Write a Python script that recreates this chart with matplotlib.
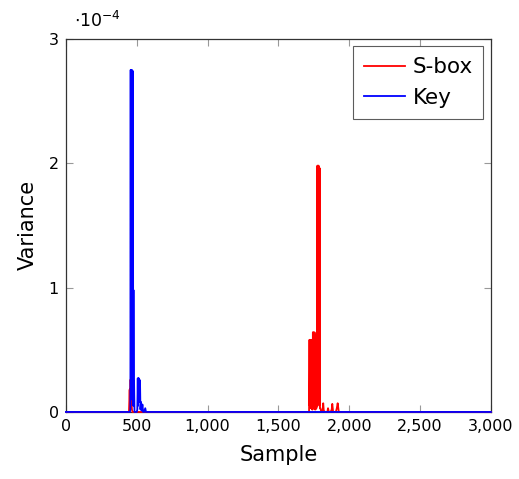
import matplotlib
matplotlib.use("Agg")
import matplotlib.pyplot as plt
from matplotlib.ticker import FuncFormatter

# S-box variance trace (values in units of 1e-4)
sbox_samples = [0, 445, 450, 453, 456, 459, 462, 466, 470, 1716, 1719, 1721, 1723, 1725,
                1727, 1729, 1731, 1733, 1735, 1737, 1739, 1741, 1743, 1745, 1747, 1749,
                1751, 1753, 1755, 1757, 1759, 1762, 1766, 1768, 1770, 1772, 1775, 1777,
                1779, 1781, 1783, 1785, 1787, 1789, 1791, 1793, 1796, 1800, 1808, 1812,
                1816, 1820, 1830, 1845, 1850, 1856, 1868, 1876, 1880, 1886, 1905, 1912,
                1918, 1926, 3000]
sbox_values = [0, 0, 0.18, 0.02, 0.26, 0.04, 0.10, 0.02, 0, 0, 0.58, 0.05, 0.58, 0.1,
               0.57, 0.03, 0.58, 0.2, 0.57, 0.02, 0.58, 0.02, 0.64, 0.1, 0.64, 0.05,
               0.63, 0.2, 0.64, 0.02, 0.06, 0.02, 0.62, 0.03, 0.62, 0.05, 1.98, 0.2,
               1.98, 0.1, 1.98, 0.3, 1.97, 0.05, 1.96, 0.03, 0.03, 0.01, 0, 0.02,
               0.07, 0.01, 0, 0, 0.03, 0, 0, 0.02, 0.065, 0, 0, 0.03, 0.07, 0, 0]

# Key variance trace (values in units of 1e-4)
key_samples = [0, 452, 455, 457, 459, 461, 463, 465, 467, 469, 471, 473, 475, 477, 479,
               481, 484, 500, 504, 507, 509, 511, 513, 515, 517, 519, 521, 523, 526,
               530, 535, 540, 545, 552, 560, 565, 570, 3000]
key_values = [0, 0, 0.02, 2.75, 0.1, 2.75, 0.2, 2.75, 0.3, 2.74, 0.1, 2.74, 0.05, 0.98,
              0.2, 0.25, 0, 0, 0.02, 0.27, 0.05, 0.27, 0.1, 0.27, 0.08, 0.26, 0.1,
              0.25, 0.02, 0.08, 0.01, 0.06, 0, 0, 0.03, 0, 0, 0]

x_ticks = [0, 500, 1000, 1500, 2000, 2500, 3000]
y_ticks = [0, 1, 2, 3]

plt.rcParams['font.family'] = ['DejaVu Sans']
fig = plt.figure(figsize=(5.19, 4.79), dpi=100)
ax = fig.add_axes([0.127, 0.140, 0.819, 0.779])

ax.plot(sbox_samples, sbox_values, color='#ff0000', lw=1.3, label='S-box',
        zorder=3, clip_on=False)
ax.plot(key_samples, key_values, color='#0000ff', lw=1.3, label='Key',
        zorder=4, clip_on=False)

ax.set_xlim(0, 3000)
ax.set_ylim(0, 3)
ax.set_xticks(x_ticks)
ax.set_yticks(y_ticks)
ax.xaxis.set_major_formatter(FuncFormatter(lambda v, p: f"{int(v):,}"))
ax.yaxis.set_major_formatter(FuncFormatter(lambda v, p: f"{int(v)}"))
ax.tick_params(direction='in', top=True, right=True, length=5, width=0.8,
               color='#999999', labelsize=11.5, pad=5)
for s in ax.spines.values():
    s.set_linewidth(0.9)
    s.set_color('#333333')
    s.set_zorder(2)

ax.set_xlabel('Sample', fontsize=15, labelpad=8)
ax.set_ylabel('Variance', fontsize=15, labelpad=8)

fig.text(0.142, 0.935, r'$\cdot 10^{-4}$', fontsize=12.5, ha='left', va='bottom')

leg = ax.legend(loc='upper right', fontsize=15.5, frameon=True, fancybox=False,
                handlelength=1.9, borderpad=0.5, labelspacing=0.5,
                borderaxespad=0.35, handletextpad=0.35)
leg.get_frame().set_edgecolor('#333333')
leg.get_frame().set_linewidth(0.8)
leg.set_zorder(5)

fig.savefig('out.png', dpi=100)
